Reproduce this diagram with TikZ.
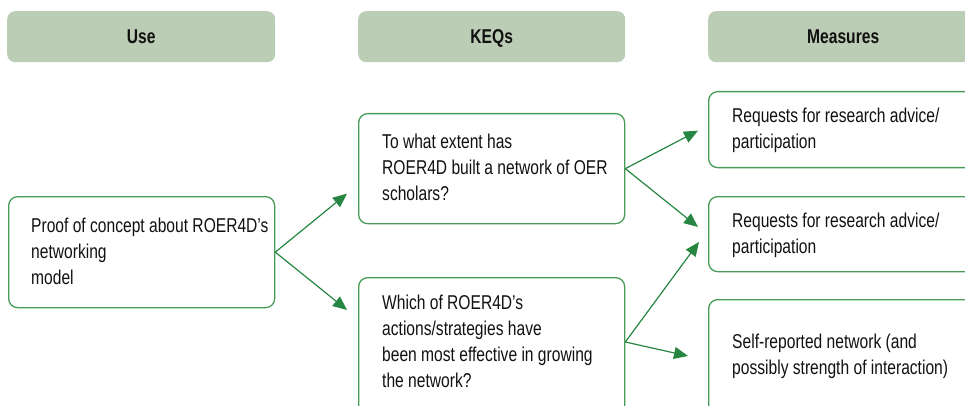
\documentclass[tikz,border=0pt]{standalone}
\usepackage{fontspec}
\setmainfont{Liberation Sans}[FakeStretch=0.78]
\usetikzlibrary{arrows.meta,calc}
\definecolor{headfill}{RGB}{187,205,181}
\definecolor{boxline}{RGB}{72,156,88}
\definecolor{arrowgreen}{RGB}{38,134,66}
\definecolor{ink}{RGB}{17,17,17}
\newcommand{\boxlines}[1]{\parbox[t]{300pt}{\raggedright #1}}
\begin{document}
\begin{tikzpicture}[x=1pt,y=-1pt,
  header/.style={draw=none,fill=headfill,rounded corners=8pt,anchor=north west,inner sep=0pt,
    text height=13pt,text depth=0pt,
    font=\fontsize{20}{24}\selectfont\bfseries,text=ink},
  itembox/.style={draw=boxline,line width=1.3pt,rounded corners=9pt,anchor=north west,inner sep=0pt},
  itemtext/.style={anchor=base west,inner sep=0pt,text=ink,font=\fontsize{20}{26}\selectfont},
  arr/.style={draw=arrowgreen,line width=1.2pt,-{Triangle[length=14pt,width=12pt]}}]
  \useasboundingbox (0,0) rectangle (965,406);
  \clip (0,0) rectangle (965,406);

  % column headers
  \node[header,minimum width=268pt,minimum height=51pt] (hUse) at (7,11) {Use};
  \node[header,minimum width=267pt,minimum height=51pt] (hKeq) at (358,11) {KEQs};
  \node[header,minimum width=270pt,minimum height=51pt] (hMeas) at (708,11) {Measures};

  % boxes
  \node[itembox,minimum width=266pt,minimum height=111pt] (use) at (8,196) {};
  \node[itembox,minimum width=266pt,minimum height=110pt] (keq1) at (358,113) {};
  \node[itembox,minimum width=266pt,minimum height=160pt] (keq2) at (358,277) {};
  \node[itembox,minimum width=290pt,minimum height=76pt] (m1) at (708,91) {};
  \node[itembox,minimum width=290pt,minimum height=75pt] (m2) at (708,196) {};
  \node[itembox,minimum width=290pt,minimum height=150pt] (m3) at (708,299) {};

  % box texts
  \node[itemtext] (tUse) at (31,232) {\boxlines{Proof of concept about ROER4D’s\\networking\\model}};
  \node[itemtext] (tKeq1) at (382,149) {\boxlines{To what extent has\\ROER4D built a network of OER\\scholars?}};
  \node[itemtext] (tKeq2) at (382,309) {\boxlines{Which of ROER4D’s\\actions/strategies have\\been most effective in growing\\the network?}};
  \node[itemtext] (tM1) at (732,123) {\boxlines{Requests for research advice/\\participation}};
  \node[itemtext] (tM2) at (732,227) {\boxlines{Requests for research advice/\\participation}};
  \node[itemtext] (tM3) at (732,348) {\boxlines{Self-reported network (and\\possibly strength of interaction)}};

  % arrow start and end points
  \coordinate (k2out) at ($(keq2.north east)+(0,65)$);
  \coordinate (a1) at ($(keq1.west)+(-11,25)$);
  \coordinate (a2) at ($(keq2.north west)+(-11,33)$);
  \coordinate (b1) at ($(m1.west)+(-10,1)$);
  \coordinate (b2) at ($(m2.north west)+(-10,31)$);
  \coordinate (c1) at ($(m2.north west)+(-9,46)$);
  \coordinate (c2) at ($(m3.north west)+(-20,57)$);

  % connectors
  \draw[arr] (use.east) -- (a1);
  \draw[arr] (use.east) -- (a2);
  \draw[arr] (keq1.east) -- (b1);
  \draw[arr] (keq1.east) -- (b2);
  \draw[arr] (k2out) -- (c1);
  \draw[arr] (k2out) -- (c2);
\end{tikzpicture}
\end{document}
